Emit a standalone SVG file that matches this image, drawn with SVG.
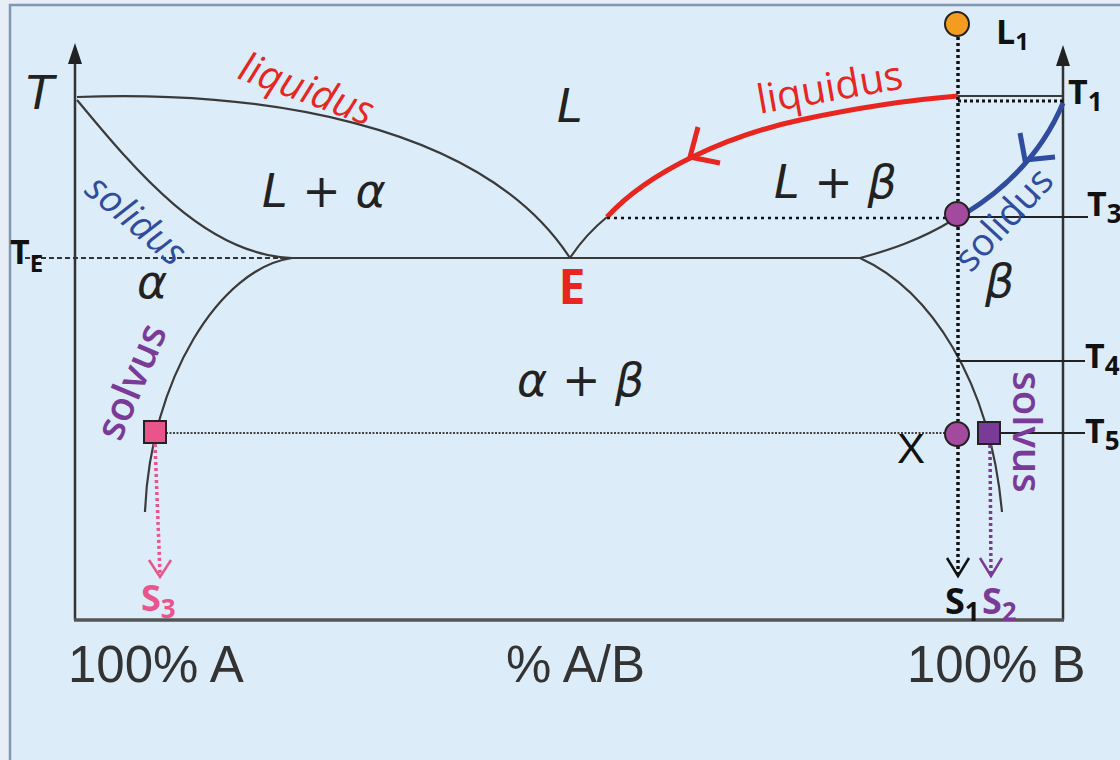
<svg xmlns="http://www.w3.org/2000/svg" width="1120" height="760" viewBox="0 0 1120 760">
<defs>
<style>
.ax{stroke:#333;stroke-width:2.5;fill:none}
.crv{stroke:#3a3a3a;stroke-width:2.2;fill:none}
.dot{stroke:#111;stroke-width:3.5;stroke-dasharray:3 3;fill:none}
.fine{stroke:#444;stroke-width:2;stroke-dasharray:2 1.5;fill:none}
.tick{stroke:#222;stroke-width:2;fill:none}
.ph{font-family:"DejaVu Sans","Liberation Sans",sans-serif;font-style:oblique;fill:#222;font-size:46px}
.lab{font-family:"Open Sans","Lato",sans-serif;font-weight:700;fill:#111}
.cal{font-family:"Open Sans","Lato",sans-serif}
.axl{font-family:"Liberation Sans","Arial",sans-serif;font-size:51px;fill:#333}
</style>
</defs>
<rect x="0" y="0" width="1120" height="760" fill="#e8eef6"/>
<rect x="10" y="5" width="1120" height="770" fill="#dcedf9" stroke="#7f97b3" stroke-width="2.5"/>

<g id="axes">
<line class="ax" x1="75" y1="60" x2="75" y2="620"/>
<polygon points="75,43 68,64 82,64" fill="#222"/>
<line class="ax" x1="1063" y1="62" x2="1063" y2="620"/>
<polygon points="1063,45 1056,66 1070,66" fill="#222"/>
<line x1="74" y1="620" x2="1064" y2="620" stroke="#555" stroke-width="3.5"/>
</g>

<g id="phase-curves">
<path class="crv" d="M77,97 C250,90 480,120 570,258"/>
<path class="crv" d="M77,100 C135,170 205,255 292,258"/>
<path class="crv" d="M292,258 C220,268 150,380 145,512"/>
<line class="crv" x1="280" y1="258" x2="862" y2="258"/>
<path class="crv" d="M570,258 Q585,235 607,217"/>
<path class="crv" d="M958,96 L1063,96"/>
<path class="crv" d="M953,220 C920,240 890,250 860,258"/>
<path class="crv" d="M860,258 C930,290 990,380 1002,512"/>
</g>

<g id="highlighted-paths">
<path d="M607,217 C650,170 730,135 800,120 S920,99 958,96" fill="none" stroke="#e8251f" stroke-width="5"/>
<polyline points="698,127 690,157 720,163" fill="none" stroke="#e8251f" stroke-width="5"/>
<path d="M1063,103 Q1035,170 966,213" fill="none" stroke="#2f4c9f" stroke-width="5"/>
<polyline points="1020,133 1025,160 1055,157" fill="none" stroke="#2f4c9f" stroke-width="5"/>
</g>

<g id="connectors">
<line x1="25" y1="258" x2="280" y2="258" stroke="#333" stroke-width="2" stroke-dasharray="5 3"/>
<line class="dot" x1="958" y1="37" x2="958" y2="201"/>
<line class="dot" x1="958" y1="227" x2="958" y2="421"/>
<line class="dot" x1="958" y1="446" x2="958" y2="574"/>
<polyline points="947,558 958,576 969,558" fill="none" stroke="#111" stroke-width="2.5"/>
<line x1="958" y1="101" x2="1063" y2="101" stroke="#111" stroke-width="3" stroke-dasharray="3 3"/>
<line x1="607" y1="218" x2="945" y2="218" stroke="#111" stroke-width="2.5" stroke-dasharray="3 4"/>
<line class="fine" x1="166" y1="433" x2="945" y2="433"/>
<line class="tick" x1="969" y1="217" x2="1088" y2="217"/>
<line class="tick" x1="958" y1="361" x2="1085" y2="361"/>
<line class="tick" x1="1000" y1="433" x2="1085" y2="433"/>
<line x1="155" y1="444" x2="160" y2="574" stroke="#e9548b" stroke-width="3.5" stroke-dasharray="3 3"/>
<polyline points="149,560 160,577 171,560" fill="none" stroke="#e9548b" stroke-width="2.5"/>
<line x1="990" y1="445" x2="991" y2="574" stroke="#7a3b98" stroke-width="3.5" stroke-dasharray="3 3"/>
<polyline points="980,558 991,576 1002,558" fill="none" stroke="#7a3b98" stroke-width="2.5"/>
</g>

<g id="L1">
<circle cx="957" cy="24" r="12" fill="#f39c1f" stroke="#222" stroke-width="2"/>
<text class="lab" x="996" y="44" font-size="34">L<tspan font-size="24" dy="6">1</tspan></text>
</g>
<g id="T3-point">
<circle cx="957" cy="214" r="12" fill="#a34a9e" stroke="#222" stroke-width="2"/>
</g>
<g id="X-point">
<circle cx="957" cy="434" r="12" fill="#a34a9e" stroke="#222" stroke-width="2"/>
<text x="897" y="463" font-family="Liberation Sans, Arial, sans-serif" font-size="42" fill="#111">X</text>
</g>
<g id="S2-point">
<rect x="978" y="422" width="22" height="22" fill="#7a3b98" stroke="#222" stroke-width="2"/>
</g>
<g id="S3-point">
<rect x="144" y="421" width="22" height="22" fill="#e9548b" stroke="#222" stroke-width="2"/>
</g>

<g id="temperature-labels">
<text class="ph" x="26" y="109" font-size="50">T</text>
<text class="lab" x="10" y="264" font-size="34">T<tspan font-size="24" dy="8">E</tspan></text>
<text class="lab" x="1068" y="104" font-size="34">T<tspan font-size="26" dy="7">1</tspan></text>
<text class="lab" x="1087" y="216" font-size="34">T<tspan font-size="26" dy="7">3</tspan></text>
<text class="lab" x="1085" y="368" font-size="34">T<tspan font-size="26" dy="7">4</tspan></text>
<text class="lab" x="1085" y="443" font-size="34">T<tspan font-size="26" dy="7">5</tspan></text>
</g>

<g id="region-labels">
<text class="ph" x="557" y="122">L</text>
<text class="ph" x="262" y="207" xml:space="preserve">L + α</text>
<text class="ph" x="774" y="198" xml:space="preserve">L + β</text>
<text class="ph" x="137" y="298">α</text>
<text class="ph" x="985" y="297">β</text>
<text class="ph" x="517" y="396" xml:space="preserve">α + β</text>
<text class="lab" x="572" y="304" font-size="48" text-anchor="middle" style="fill:#e8251f">E</text>
</g>

<g id="curve-labels">
<text class="cal" transform="translate(302,102) rotate(20)" text-anchor="middle" font-size="40" font-style="italic" fill="#e8251f">liquidus</text>
<text class="cal" transform="translate(832,101) rotate(-10)" text-anchor="middle" font-size="40" fill="#e8251f">liquidus</text>
<text class="cal" transform="translate(128,230) rotate(40)" text-anchor="middle" font-size="38" font-style="italic" fill="#2f4c9f">solidus</text>
<text class="cal" transform="translate(1013,228) rotate(-47)" text-anchor="middle" font-size="38" fill="#2f4c9f">solidus</text>
<text class="cal" transform="translate(144,387) rotate(-67)" text-anchor="middle" font-size="40" font-weight="600" fill="#7a3b98">solvus</text>
<text class="cal" transform="translate(1013,432) rotate(90)" text-anchor="middle" font-size="40" font-weight="600" fill="#7a3b98">solvus</text>
</g>

<g id="S-labels">
<text class="lab" x="141" y="611" font-size="36" style="fill:#e9548b">S<tspan font-size="26" dy="7">3</tspan></text>
<text class="lab" x="945" y="614" font-size="36">S<tspan font-size="26" dy="7">1</tspan></text>
<text class="lab" x="982" y="614" font-size="36" style="fill:#7a3b98">S<tspan font-size="26" dy="7">2</tspan></text>
</g>

<g id="axis-labels">
<text class="axl" x="68" y="682">100% A</text>
<text class="axl" x="506" y="682">% A/B</text>
<text class="axl" x="907" y="682">100% B</text>
</g>
</svg>
